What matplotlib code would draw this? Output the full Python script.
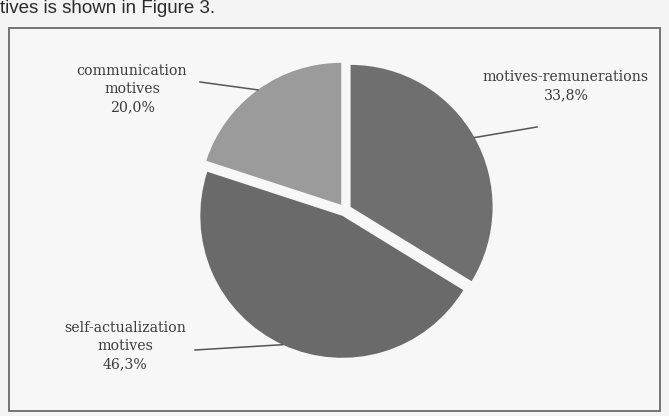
import numpy as np
import matplotlib
matplotlib.use("Agg")
import matplotlib.pyplot as plt
from matplotlib.patches import Rectangle

# ---- data ----
categories = ["motives-remunerations", "self-actualization\nmotives", "communication\nmotives"]
values = [33.8, 46.3, 20.0]
value_labels = ["33,8%", "46,3%", "20,0%"]
colors = ["#6f6f6f", "#6a6a6a", "#9b9b9b"]

W, H = 669, 416
fig = plt.figure(figsize=(W / 100, H / 100), dpi=100)
fig.patch.set_facecolor("#f4f4f4")

# pixel-based axes: 1 data unit = R px
R = 142.0
cx, cy = 345.0, 210.0
ax = fig.add_axes([0, 0, 1, 1])
ax.axis("off")

def px(x, y):
    return ((x - cx) / R, (cy - y) / R)

# frame of the figure box
x0, y0 = px(9, 411)
x1, y1 = px(660, 28)
ax.add_patch(Rectangle((x0, y0), x1 - x0, y1 - y0, fill=True,
                       facecolor="#f7f7f7", edgecolor="#6a6a6a", lw=1.3, zorder=0))

wedges, _ = ax.pie(values, colors=colors, startangle=90, counterclock=False,
                   explode=[0.045] * 3, radius=1.0, center=(0, 0),
                   wedgeprops=dict(linewidth=0), frame=False)
ax.set_xlim(-cx / R, (W - cx) / R)
ax.set_ylim(-(H - cy) / R, cy / R)
ax.set_aspect("auto")

# label text positions (pixel layout) and leader-line endpoints
text_pos = [(566, 86), (125, 346), (132, 89)]
line_end = [(537, 127), (195, 350), (200, 82)]

serif = "DejaVu Serif"
for w, cat, vl, tp, le in zip(wedges, categories, value_labels, text_pos, line_end):
    ang = np.deg2rad((w.theta1 + w.theta2) / 2)
    cxw, cyw = w.center
    ex, ey = cxw + w.r * np.cos(ang), cyw + w.r * np.sin(ang)
    lx, ly = px(*le)
    ax.plot([ex, lx], [ey, ly], color="#555555", lw=1.1, zorder=3)
    tx, ty = px(*tp)
    ax.text(tx, ty, cat + "\n" + vl, ha="center", va="center", fontsize=10.2,
            family=serif, color="#3c3c3c", linespacing=1.35, zorder=4)

# surrounding document text
fig.text(0.0, 1.0, "tives is shown in Figure 3.", ha="left", va="top",
         fontsize=13.5, family="Liberation Sans", color="#2a2a2a")

fig.savefig("out.png", dpi=100, facecolor=fig.get_facecolor())
